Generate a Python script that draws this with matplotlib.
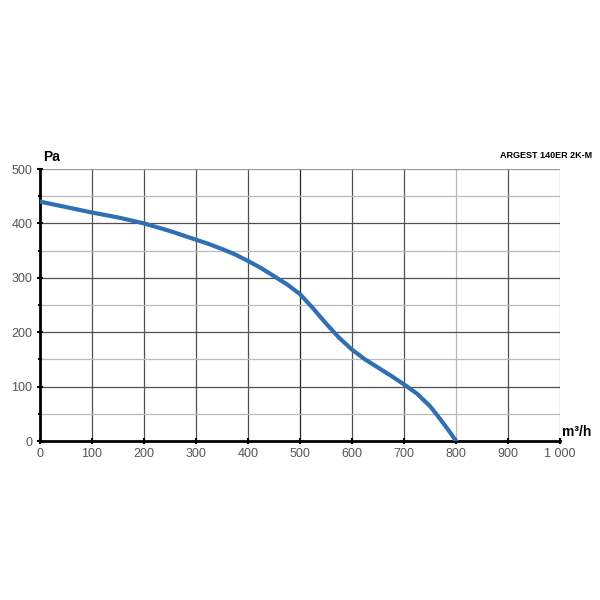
import matplotlib.pyplot as plt

plt.rcParams['font.family'] = ['Liberation Sans', 'DejaVu Sans']

# fan curve
flow = [0, 50, 100, 150, 200, 250, 300, 325, 350, 375, 400, 425, 450, 475, 500, 525, 550,
        575, 600, 625, 650, 675, 700, 725, 750, 765, 780, 790, 800]
pressure = [440, 430, 420, 411, 400, 386, 370, 362, 353, 343, 331, 318, 303, 288, 270, 244, 216,
            190, 168, 150, 135, 120, 104, 87, 64, 46, 27, 14, 0]

x_ticks = [0, 100, 200, 300, 400, 500, 600, 700, 800, 900, 1000]
x_labels = ["0", "100", "200", "300", "400", "500", "600", "700", "800", "900", "1 000"]
y_ticks = [0, 100, 200, 300, 400, 500]
y_minor = [50, 150, 250, 350, 450]

fig = plt.figure(figsize=(6, 6), dpi=100)
ax = fig.add_axes([40 / 600, 159 / 600, 520 / 600, 272 / 600])

ax.set_xlim(0, 1000)
ax.set_ylim(0, 500)

# grid
for xv in x_ticks[1:]:
    if xv == 800:
        c = "#b8b8b8"
    elif xv == 1000:
        c = "#888888"
    elif xv == 500:
        c = "#222222"
    else:
        c = "#505050"
    ax.axvline(xv, color=c, lw=0.9, zorder=1)
for yv in y_ticks[1:]:
    c = "#999999" if yv == 500 else "#505050"
    ax.axhline(yv, color=c, lw=0.9, zorder=1)
for yv in y_minor:
    ax.axhline(yv, color="#bbbbbb", lw=0.9, zorder=1)

ax.plot(flow, pressure, color="#2f6fb3", lw=3, solid_capstyle="round",
        solid_joinstyle="round", zorder=3)

for side in ["top", "right"]:
    ax.spines[side].set_visible(False)
ax.spines["left"].set_linewidth(2)
ax.spines["bottom"].set_linewidth(2)

ax.set_xticks(x_ticks)
ax.set_xticklabels(x_labels)
ax.set_yticks(y_ticks)
ax.set_yticks(y_minor, minor=True)
ax.tick_params(axis="both", which="major", length=4, width=1.5, colors="black",
               labelcolor="#555555", labelsize=9, direction="inout")
ax.tick_params(axis="y", which="minor", length=3, width=1.5, direction="inout")
ax.tick_params(axis="x", pad=3)

fig.text(43 / 600, 1 - 157 / 600, "Pa", fontsize=10, fontweight="bold", va="center")
fig.text(562 / 600, 1 - 432 / 600, "m³/h", fontsize=10, fontweight="bold", va="center")
fig.text(592 / 600, 1 - 155 / 600, "ARGEST 140ER 2K-M", fontsize=6.5, fontweight="bold",
         ha="right", va="center")

fig.savefig("out.png", dpi=100)
